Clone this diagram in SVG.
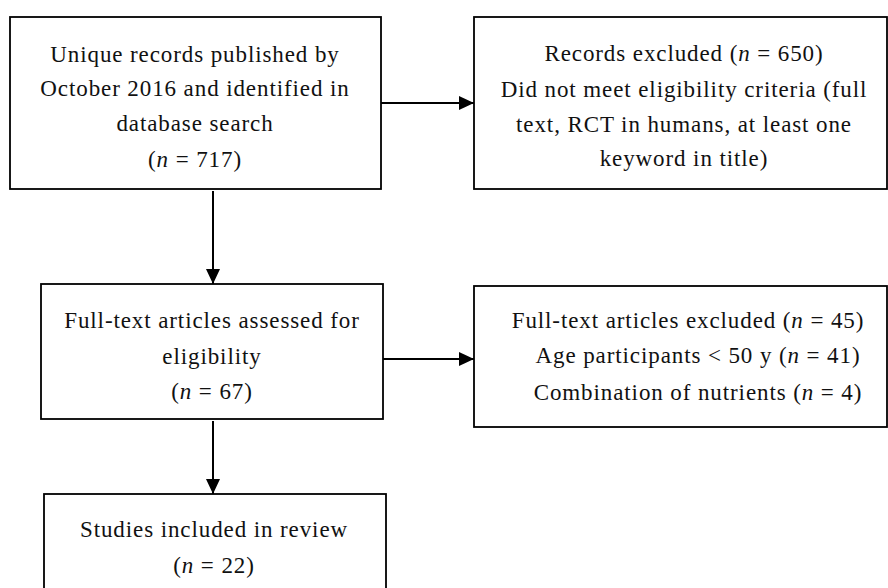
<svg xmlns="http://www.w3.org/2000/svg" width="888" height="588" viewBox="0 0 888 588">
  <defs>
    <marker id="ah" markerUnits="userSpaceOnUse" markerWidth="16" markerHeight="14" refX="15" refY="7" orient="auto">
      <path d="M0,0 L15,7 L0,14 Z" fill="#000"/>
    </marker>
    <style>
      .box { fill: #fff; stroke: #000; stroke-width: 1.8; }
      .t { font-family: "Liberation Serif", "Times New Roman", serif; font-size: 23px; letter-spacing: 0.9px; fill: #111; text-anchor: middle; }
      .i { font-style: italic; }
      .c { stroke: #000; stroke-width: 2; fill: none; marker-end: url(#ah); }
    </style>
  </defs>
  <rect width="888" height="588" fill="#fff"/>

  <g id="connectors">
    <line class="c" x1="381" y1="103" x2="474" y2="103"/>
    <line class="c" x1="213" y1="191" x2="213" y2="284"/>
    <line class="c" x1="383" y1="359" x2="474" y2="359"/>
    <line class="c" x1="213" y1="421" x2="213" y2="494"/>
  </g>

  <g id="records">
    <rect class="box" x="10" y="17" width="371" height="172"/>
    <text class="t" x="195" y="62">Unique records published by</text>
    <text class="t" x="195" y="96">October 2016 and identified in</text>
    <text class="t" x="195" y="131">database search</text>
    <text class="t" x="195" y="167">(<tspan class="i">n</tspan> = 717)</text>
  </g>

  <g id="excluded1">
    <rect class="box" x="474" y="17" width="413" height="172"/>
    <text class="t" x="684" y="61">Records excluded (<tspan class="i">n</tspan> = 650)</text>
    <text class="t" x="684" y="97">Did not meet eligibility criteria (full</text>
    <text class="t" x="684" y="132">text, RCT in humans, at least one</text>
    <text class="t" x="684" y="166">keyword in title)</text>
  </g>

  <g id="fulltext">
    <rect class="box" x="41" y="284" width="342" height="135"/>
    <text class="t" x="212" y="328">Full-text articles assessed for</text>
    <text class="t" x="212" y="364">eligibility</text>
    <text class="t" x="212" y="399">(<tspan class="i">n</tspan> = 67)</text>
  </g>

  <g id="excluded2">
    <rect class="box" x="474" y="286" width="413" height="141"/>
    <text class="t" x="688" y="328">Full-text articles excluded (<tspan class="i">n</tspan> = 45)</text>
    <text class="t" x="698" y="363">Age participants &lt; 50 y (<tspan class="i">n</tspan> = 41)</text>
    <text class="t" x="698" y="400">Combination of nutrients (<tspan class="i">n</tspan> = 4)</text>
  </g>

  <g id="included">
    <rect class="box" x="44" y="494" width="342" height="110"/>
    <text class="t" x="214" y="537">Studies included in review</text>
    <text class="t" x="214" y="573">(<tspan class="i">n</tspan> = 22)</text>
  </g>
</svg>
